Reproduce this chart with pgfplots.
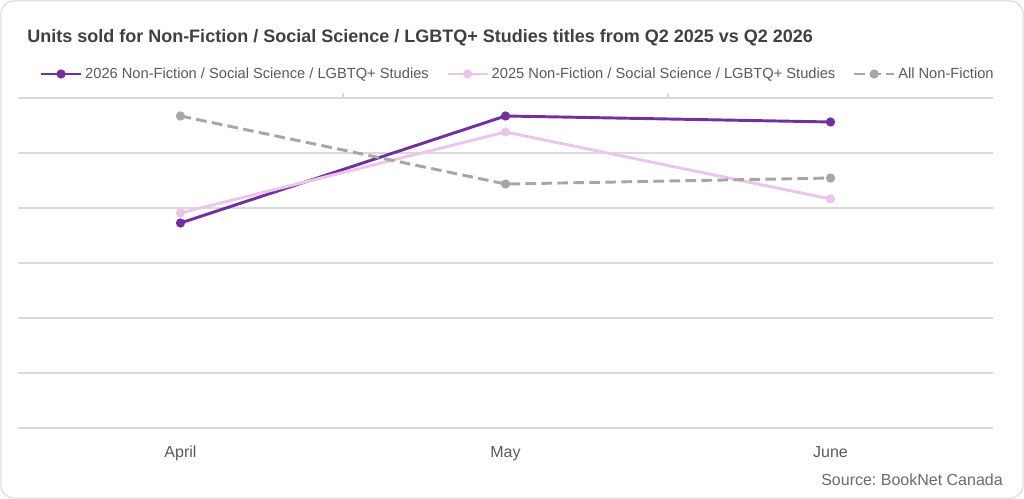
\documentclass[border=0pt]{standalone}
\usepackage{pgfplots}
\pgfplotsset{compat=1.18}
\usepackage{fontspec}
\setmainfont{Liberation Sans}
\frenchspacing
\definecolor{cPurple}{HTML}{7030A0}
\definecolor{cPink}{HTML}{EBC6EB}
\definecolor{cGray}{HTML}{A6A6A6}
\definecolor{cGrid}{HTML}{D9D9D9}
\definecolor{cText}{HTML}{595959}
\definecolor{cTitle}{HTML}{404040}
\begin{document}
\begin{tikzpicture}
\useasboundingbox (0,0) rectangle (768pt,374.25pt);
\draw[rounded corners=10pt, draw=cGrid, line width=0.8pt] (0.6pt,0.6pt) rectangle (767.4pt,373.65pt);
\node[anchor=west, font=\fontsize{13.5pt}{15pt}\selectfont\bfseries, text=cTitle, inner sep=0pt] at (20.25pt,345.75pt) {Units sold for Non-Fiction / Social Science / LGBTQ+ Studies titles from Q2 2025 vs Q2 2026};
\node[anchor=east, font=\fontsize{12pt}{14pt}\selectfont, text=cText!90, inner sep=0pt] at (752.25pt,14.25pt) {Source: BookNet Canada};
\begin{axis}[
  at={(13.5pt,53.25pt)}, anchor=south west,
  width=731.25pt, height=247.5pt, scale only axis,
  xmin=-0.5, xmax=2.5, ymin=0, ymax=6,
  xtick={0,1,2}, xticklabels={April,May,June},
  ytick={0,1,2,3,4,5,6}, yticklabels={},
  ymajorgrids, grid style={cGrid, line width=0.8pt},
  axis line style={draw=none},
  major tick length=0pt,
  xticklabel style={font=\fontsize{12pt}{14pt}\selectfont, text=cText, yshift=-10pt},
  legend columns=3,
  legend style={at={(axis description cs:0,1)}, anchor=west, xshift=13pt, yshift=18pt, draw=none, fill=none,
    font=\fontsize{11pt}{13pt}\selectfont, text=cText,
    /tikz/every even column/.append style={column sep=11pt}},
  legend image code/.code={\draw[mark repeat=2,mark phase=2,#1] plot coordinates {(0pt,0pt) (15pt,0pt) (30pt,0pt)};},
  clip=false,
]
\addplot[cPurple, line width=2.2pt, mark=*, mark size=2.3pt, mark options={solid}] coordinates {(0,3.727) (1,5.673) (2,5.564)};
\addlegendentry{2026 Non-Fiction / Social Science / LGBTQ+ Studies}
\addplot[cPink, line width=2.2pt, mark=*, mark size=2.3pt, mark options={solid}] coordinates {(0,3.909) (1,5.382) (2,4.164)};
\addlegendentry{2025 Non-Fiction / Social Science / LGBTQ+ Studies}
\addplot[cGray, line width=2.2pt, dash pattern=on 8pt off 4pt, mark=*, mark size=2.3pt, mark options={solid}] coordinates {(0,5.673) (1,4.436) (2,4.545)};
\addlegendentry{All Non-Fiction}
\draw[cGrid, line width=0.8pt] (axis cs:0.5,6) -- ([yshift=4pt]axis cs:0.5,6);
\draw[cGrid, line width=0.8pt] (axis cs:1.5,6) -- ([yshift=4pt]axis cs:1.5,6);
\end{axis}
\end{tikzpicture}
\end{document}
